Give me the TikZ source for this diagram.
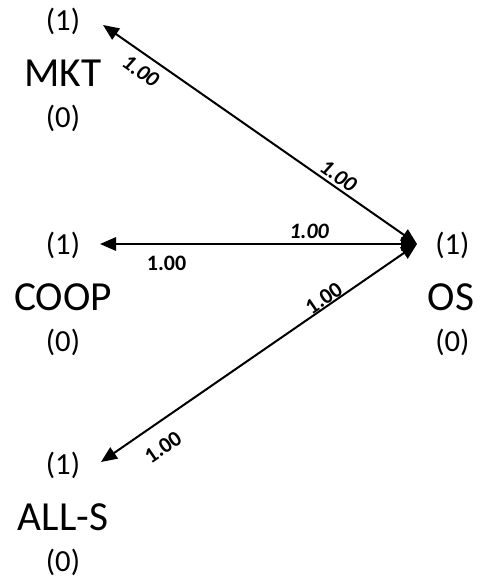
\documentclass[tikz,border=0pt]{standalone}
\usepackage{fontspec}
\setmainfont{Carlito}
\usetikzlibrary{positioning, arrows.meta}

\begin{document}
\begin{tikzpicture}[x=0.75pt, y=0.75pt,
				NameNode/.style={font=\fontsize{31}{36}\selectfont, inner sep=0pt},
				LevelNode/.style={font=\fontsize{23}{28}\selectfont, inner sep=0pt},
				WeightLabel/.style={font=\fontsize{16.5}{18}\selectfont\bfseries, inner sep=0pt, sloped},
				SlantLabel/.style={WeightLabel, font=\fontsize{16.5}{18}\selectfont\bfseries\itshape},
				Link/.style={line width=1.5pt, {Triangle[length=12pt, width=10pt]}-{Triangle[length=12pt, width=10pt]}}]

			\useasboundingbox (0,0) rectangle (481,-578);

			% Nodes
			\node[NameNode] (MKT) at (63,-73) {MKT};
			\node[NameNode] (COOP) at (63,-297) {COOP};
			\node[NameNode] (ALLS) at (63,-517) {ALL-S};
			\node[NameNode] (OS) at (451,-297) {OS};

			\node[LevelNode, above=39pt of MKT.center, anchor=center] (MKTup) {(1)};
			\node[LevelNode, below=34pt of MKT.center, anchor=center] (MKTdown) {(0)};
			\node[LevelNode, above=39pt of COOP.center, anchor=center] (COOPup) {(1)};
			\node[LevelNode, below=34pt of COOP.center, anchor=center] (COOPdown) {(0)};
			\node[LevelNode, above=39pt of ALLS.center, anchor=center] (ALLSup) {(1)};
			\node[LevelNode, below=34pt of ALLS.center, anchor=center] (ALLSdown) {(0)};
			\node[LevelNode, above=39pt of OS.center, anchor=center, xshift=1pt] (OSup) {(1)};
			\node[LevelNode, below=34pt of OS.center, anchor=center, xshift=1pt] (OSdown) {(0)};

			\coordinate (Hub) at (417,-244);
			\coordinate (MKTend) at (103,-25);
			\coordinate (COOPend) at (100,-244);
			\coordinate (ALLSend) at (101,-462);

			% Lines
			\draw[Link] (Hub) -- node[SlantLabel, pos=0.27, above=2pt] {1.00} node[SlantLabel, pos=0.85, below=6pt] {1.00} (MKTend);
			\draw[Link] (Hub) -- node[SlantLabel, pos=0.34, above=3pt] {1.00} node[WeightLabel, pos=0.79, below=8pt] {1.00} (COOPend);
			\draw[Link] (Hub) -- node[WeightLabel, pos=0.28, above=0pt] {1.00} node[WeightLabel, pos=0.845, below=11pt] {1.00} (ALLSend);
		\end{tikzpicture}
\end{document}
